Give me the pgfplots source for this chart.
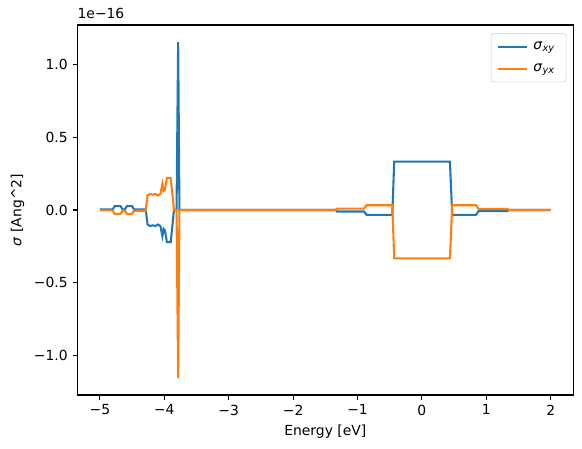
\documentclass[border=0pt]{standalone}
\usepackage{fontspec}
\setmainfont{DejaVu Sans}
\usepackage{pgfplots}
\pgfplotsset{compat=1.18}
\definecolor{c0}{HTML}{1F77B4}
\definecolor{c1}{HTML}{FF7F0E}
\begin{document}
\begin{tikzpicture}
\begin{axis}[
 name=ax,
 scale only axis, width=357pt, height=266.4pt,
 xmin=-5.35, xmax=2.35, ymin=-1.272, ymax=1.272,
 xtick={-5,-4,-3,-2,-1,0,1,2}, xticklabels={−5,−4,−3,−2,−1,0,1,2},
 ytick={-1,-0.5,0,0.5,1}, yticklabels={−1.0,−0.5,0.0,0.5,1.0},
 tick align=outside, tick pos=left, major tick length=3.5pt,
 every tick/.style={black, line width=0.8pt},
 axis line style={line width=0.8pt},
 ticklabel style={font=\fontsize{10}{12}\selectfont},
 xlabel={Energy [eV]}, ylabel={\textit{σ} [Ang\textasciicircum 2]},
 label style={font=\fontsize{10}{12}\selectfont},
 legend style={at={(rel axis cs:0.986,0.978)}, anchor=north east, draw=black!20, rounded corners=2pt,
   font=\fontsize{10}{12}\selectfont, fill=white, fill opacity=0.8, text opacity=1,
   inner xsep=4pt, inner ysep=4pt, row sep=5pt, nodes={inner xsep=4pt}},
 legend cell align=left,
 legend image code/.code={\draw[#1] (0pt,0pt) -- (21pt,0pt);},
 clip=false,
]
\addplot[c0, line width=1.5pt] coordinates {
(-5.00,0.005) (-4.80,0.005) (-4.77,0.027) (-4.68,0.027) (-4.65,0.005) (-4.61,0.005)
(-4.58,0.027) (-4.50,0.027) (-4.47,0.005) (-4.29,0.005) (-4.26,-0.10) (-4.22,-0.11)
(-4.18,-0.105) (-4.14,-0.11) (-4.10,-0.10) (-4.06,-0.11) (-4.03,-0.18) (-4.01,-0.13)
(-3.99,-0.14) (-3.96,-0.22) (-3.90,-0.22) (-3.85,0.0) (-3.81,0.0) (-3.785,1.155) (-3.765,0.0)
(-1.34,0.0) (-1.32,-0.01) (-0.90,-0.01) (-0.86,-0.033) (-0.46,-0.033) (-0.43,0.333)
(0.435,0.333) (0.47,-0.033) (0.84,-0.033) (0.88,-0.007) (1.33,-0.007) (1.35,0.0) (2.00,0.0)
};
\addlegendentry{\textit{σ}\textsubscript{\textit{xy}}}
\addplot[c1, line width=1.5pt] coordinates {
(-5.00,-0.003) (-4.80,-0.003) (-4.77,-0.027) (-4.68,-0.027) (-4.65,-0.005) (-4.61,-0.005)
(-4.58,-0.027) (-4.50,-0.027) (-4.47,-0.005) (-4.29,-0.005) (-4.26,0.10) (-4.22,0.11)
(-4.18,0.105) (-4.14,0.11) (-4.10,0.10) (-4.06,0.11) (-4.03,0.18) (-4.01,0.13)
(-3.99,0.14) (-3.96,0.22) (-3.90,0.22) (-3.85,0.0) (-3.81,0.0) (-3.785,-1.155) (-3.765,0.0)
(-1.34,0.0) (-1.32,0.01) (-0.90,0.01) (-0.86,0.033) (-0.46,0.033) (-0.43,-0.333)
(0.435,-0.333) (0.47,0.033) (0.84,0.033) (0.88,0.007) (1.33,0.007) (1.35,0.0) (2.00,0.0)
};
\addlegendentry{\textit{σ}\textsubscript{\textit{yx}}}
\node[anchor=south west, inner sep=0pt, font=\fontsize{10}{12}\selectfont] at ([yshift=4pt]rel axis cs:0,1) {1e−16};
\end{axis}
\pgfresetboundingbox
\path ([xshift=-55.7pt,yshift=-38.2pt]ax.south west) rectangle ([xshift=6.3pt,yshift=18pt]ax.north east);
\end{tikzpicture}
\end{document}
